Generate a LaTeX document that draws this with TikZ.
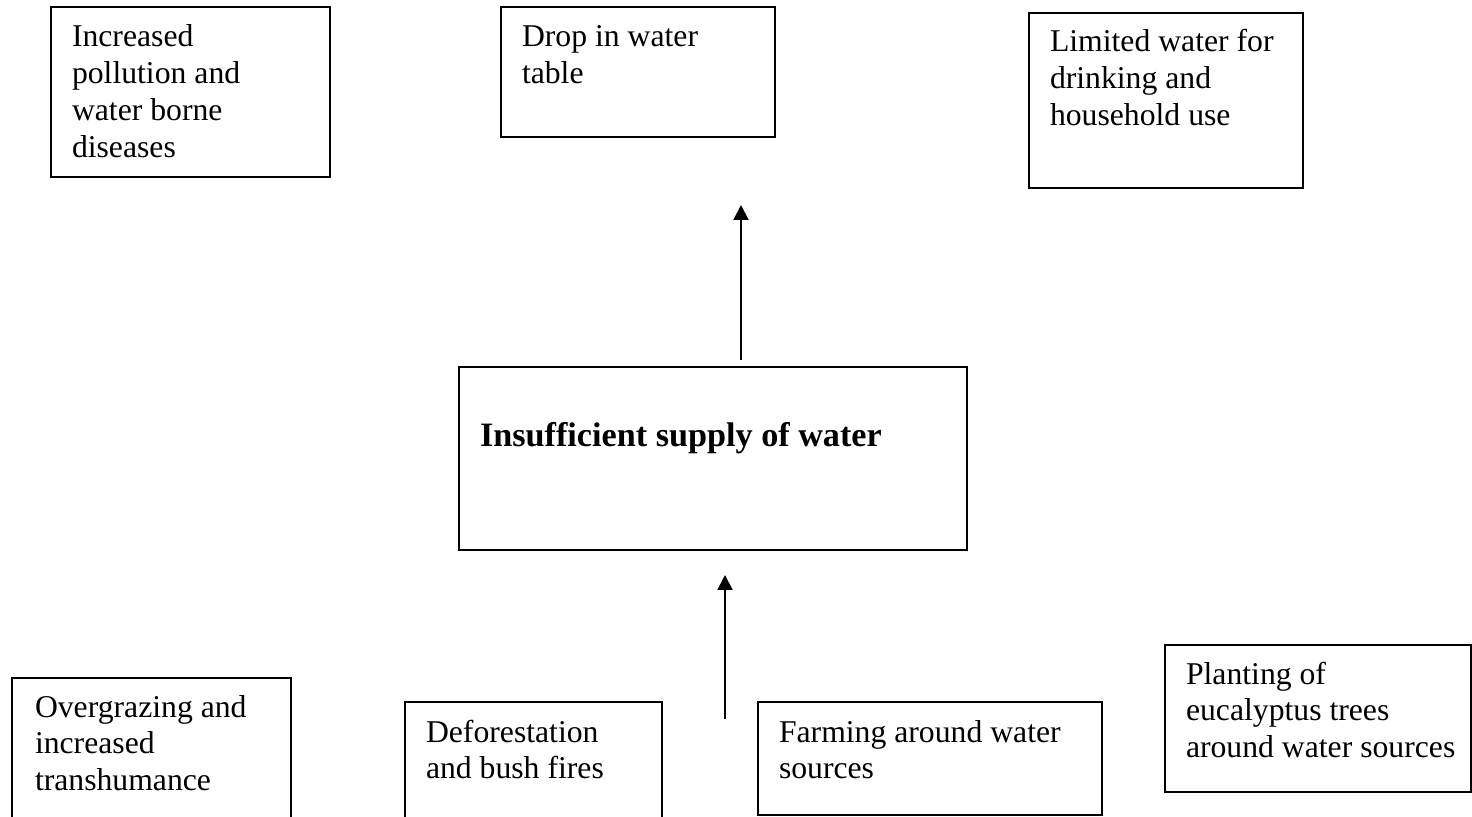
\documentclass[tikz,border=0pt]{standalone}
\usepackage{fontspec}
\setmainfont{Liberation Serif}
\usetikzlibrary{arrows.meta}

% body text of the boxes
\newcommand{\boxtext}[2]{\parbox[t]{#1}{\raggedright\fontsize{15.85pt}{18.35pt}\selectfont #2}}

\begin{document}
\begin{tikzpicture}[x=0.5pt,y=-0.5pt,
  frame/.style={draw=black,line width=0.8pt},
  txt/.style={anchor=base west,inner sep=0pt,outer sep=0pt},
  arr/.style={draw=black,line width=1pt,-{Triangle[width=7.5pt,length=7.5pt]}}]
\useasboundingbox (0,0) rectangle (1472,817);
\clip (0,0) rectangle (1472,817);

% effects (top row)
\draw[frame] (51,7) rectangle (330,177);
\coordinate (pollBox) at (51,7);
\node[txt] (poll) at (72,47) {\boxtext{130pt}{Increased\\pollution and\\water borne\\diseases}};

\draw[frame] (501,7) rectangle (775,137);
\node[txt] (drop) at (522,47) {\boxtext{130pt}{Drop in water\\table}};

\draw[frame] (1029,13) rectangle (1303,188);
\node[txt] (limit) at (1050,52) {\boxtext{130pt}{Limited water for\\drinking and\\household use}};

% core problem
\node[frame,anchor=north west,minimum width=254pt,minimum height=91.5pt,inner sep=0pt] (core) at (458,366) {};
\node[txt] (coretxt) at (480,447) {\fontsize{17.1pt}{20pt}\selectfont\bfseries Insufficient supply of water};

% causes (bottom row)
\draw[frame] (12,678) rectangle (291,840);
\node[txt] (graze) at (35,717) {\boxtext{130pt}{Overgrazing and\\increased\\transhumance}};

\draw[frame] (405,702) rectangle (662,840);
\node[txt] (forest) at (426,742) {\boxtext{130pt}{Deforestation\\and bush fires}};

\draw[frame] (758,702) rectangle (1102,815);
\node[txt] (farm) at (779,742) {\boxtext{160pt}{Farming around water\\sources}};

\draw[frame] (1165,645) rectangle (1471,792);
\node[txt] (plant) at (1186,684) {\boxtext{150pt}{Planting of\\eucalyptus trees\\around water sources}};

% arrows
\coordinate (upTip) at (741,205);
\draw[arr] ([yshift=3pt]core.north -| upTip) -- (upTip);

\coordinate (inTail) at (725,719);
\coordinate (inTip) at (725,575);
\draw[arr] (inTail) -- (inTip);
\end{tikzpicture}
\end{document}
